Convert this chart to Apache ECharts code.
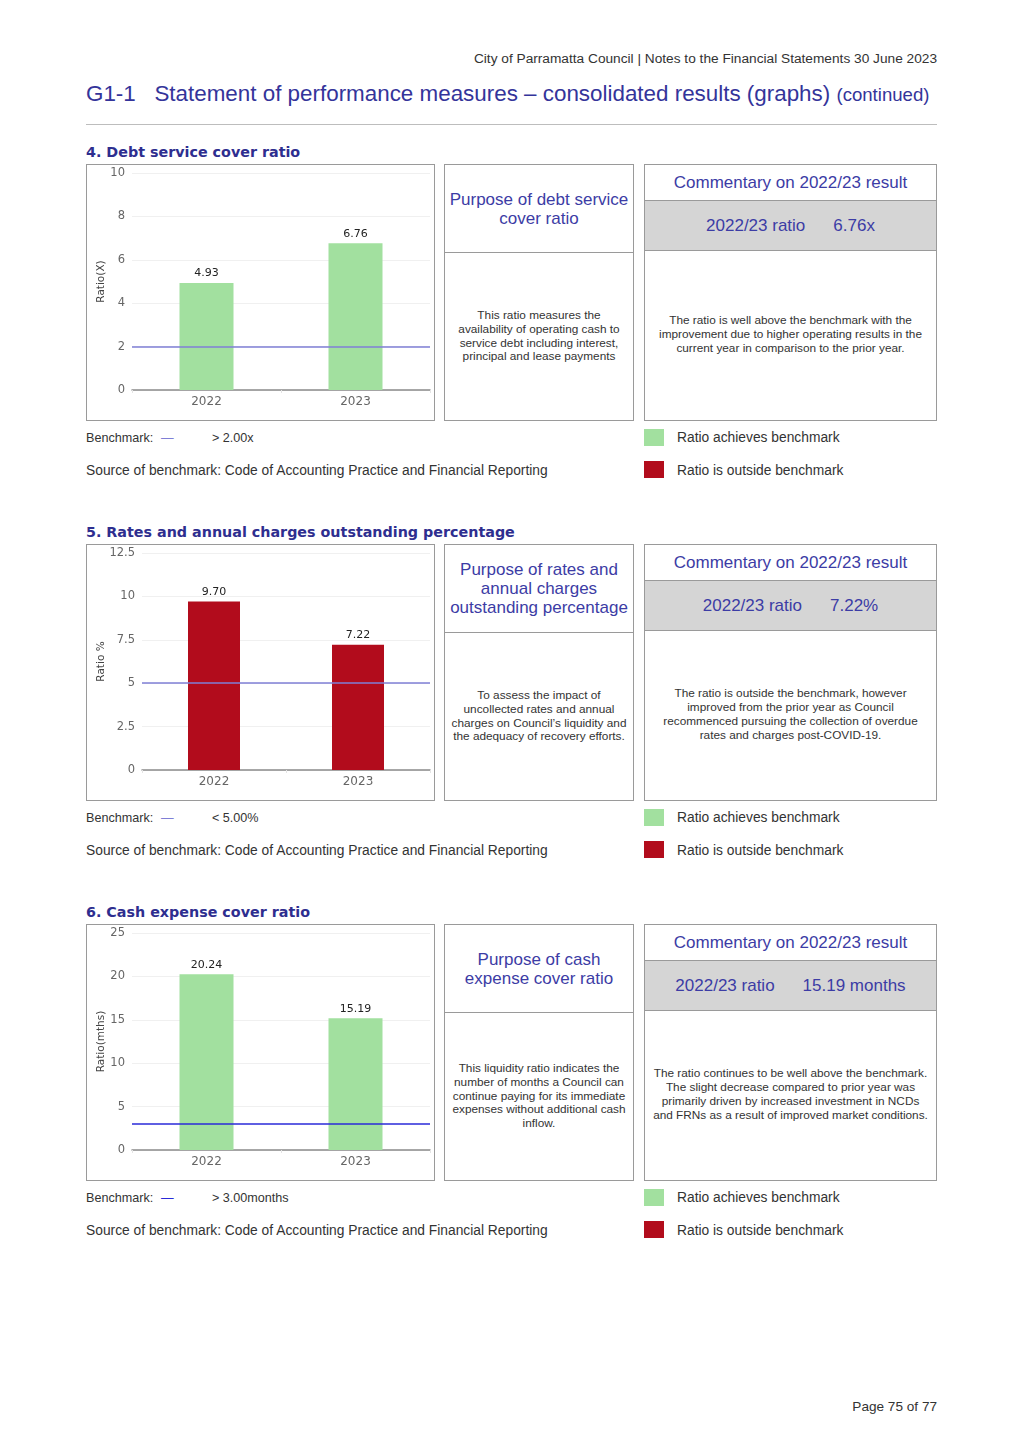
<!DOCTYPE html>
<html>
<head>
<meta charset="utf-8">
<script src="https://cdn.jsdelivr.net/npm/echarts@6/dist/echarts.min.js"></script>
<style>
  html, body { margin: 0; padding: 0; background: #fff; }
  body { width: 1024px; height: 1449px; position: relative; font-family: 'Liberation Sans', Arial, sans-serif; color: #333; }
  .abs { position: absolute; }
  .hdr { right: 87px; top: 51px; font-size: 13.7px; color: #333; white-space: nowrap; }
  .title { left: 86px; top: 81px; font-size: 22.4px; color: #34349a; white-space: nowrap; }
  .title small { font-size: 18.6px; }
  .rule { left: 86px; top: 124px; width: 851px; height: 1px; background: #bdbdbd; }
  .sect { left: 86px; font-family: 'DejaVu Sans', sans-serif; font-weight: bold; font-size: 14.3px; color: #2e2e8f; white-space: nowrap; }
  .chart { left: 86px; width: 349px; height: 257px; border: 1px solid #9a9a9a; box-sizing: border-box; }
  .purpose { left: 444px; width: 190px; height: 257px; border: 1px solid #9a9a9a; box-sizing: border-box; }
  .purpose .head { height: 87px; border-bottom: 1px solid #9a9a9a; display: flex; align-items: center; justify-content: center; text-align: center; font-size: 17px; line-height: 19px; color: #3c3ca5; white-space: nowrap; }
  .purpose .body, .comm .body { display: flex; align-items: center; justify-content: center; text-align: center; font-size: 11.8px; line-height: 13.8px; color: #333; white-space: nowrap; }
  .purpose .body { height: 167px; }
  .comm { left: 644px; width: 293px; height: 257px; border: 1px solid #9a9a9a; box-sizing: border-box; }
  .comm .head { height: 35px; display: flex; align-items: center; justify-content: center; font-size: 17px; color: #3c3ca5; }
  .comm .band { height: 51px; background: #d5d5d5; border-top: 1px solid #9a9a9a; border-bottom: 1px solid #9a9a9a; box-sizing: border-box; display: flex; align-items: center; justify-content: center; font-size: 17px; color: #3c3ca5; }
  .comm .band span + span { margin-left: 28px; }
  .comm .body { height: 168px; }
  .note { font-size: 13.8px; color: #333; white-space: nowrap; }
  .note.bm { font-size: 12.6px; }
  .sw { left: 644px; width: 20px; height: 17px; }
  .footer { right: 87px; top: 1399px; font-size: 13.6px; color: #333; }
</style>
</head>
<body>
<div class="abs hdr">City of Parramatta Council | Notes to the Financial Statements 30 June 2023</div>
<div class="abs title">G1-1&nbsp;&nbsp;&nbsp;Statement of performance measures – consolidated results (graphs) <small>(continued)</small></div>
<div class="abs rule"></div>
<div id="sections"></div>
<div class="abs footer">Page 75 of 77</div>

<script>
// ---- data ----
const categories = ['2022', '2023'];
const debtValues = [4.93, 6.76];
const ratesValues = [9.70, 7.22];
const cashValues = [20.24, 15.19];
const benchmarkValues = [2, 5, 3];
const debtTicks = { min: 0, max: 10, interval: 2 };
const ratesTicks = { min: 0, max: 12.5, interval: 2.5 };
const cashTicks = { min: 0, max: 25, interval: 5 };
const sectionTitles = ['4. Debt service cover ratio', '5. Rates and annual charges outstanding percentage', '6. Cash expense cover ratio'];
const axisNames = ['Ratio(X)', 'Ratio %', 'Ratio(mths)'];
const purposeHeads = [
  ['Purpose of debt service', 'cover ratio'],
  ['Purpose of rates and', 'annual charges', 'outstanding percentage'],
  ['Purpose of cash', 'expense cover ratio']
];
const purposeBodies = [
  ['This ratio measures the', 'availability of operating cash to', 'service debt including interest,', 'principal and lease payments'],
  ['To assess the impact of', 'uncollected rates and annual', 'charges on Council\u2019s liquidity and', 'the adequacy of recovery efforts.'],
  ['This liquidity ratio indicates the', 'number of months a Council can', 'continue paying for its immediate', 'expenses without additional cash', 'inflow.']
];
const resultTexts = ['6.76x', '7.22%', '15.19 months'];
const commentBodies = [
  ['The ratio is well above the benchmark with the', 'improvement due to higher operating results in the', 'current year in comparison to the prior year.'],
  ['The ratio is outside the benchmark, however', 'improved from the prior year as Council', 'recommenced pursuing the collection of overdue', 'rates and charges post-COVID-19.'],
  ['The ratio continues to be well above the benchmark.', 'The slight decrease compared to prior year was', 'primarily driven by increased investment in NCDs', 'and FRNs as a result of improved market conditions.']
];
const benchmarkTexts = ['> 2.00x', '< 5.00%', '> 3.00months'];
const achieves = [[true, true], [false, false], [true, true]];

// ---- layout ----
const GREEN = '#a2e09f', RED = '#b20c1c';
const lineColors = ['#7f7fd6', '#7f7fd6', '#2a2ad8'];
const sectionsEl = document.getElementById('sections');
const allValues = [debtValues, ratesValues, cashValues];
const allTicks = [debtTicks, ratesTicks, cashTicks];
const gridLeft = [45, 55, 45];
const nameGaps = [25, 35, 25];

for (let i = 0; i < 3; i++) {
  const off = i * 380;
  const html = `
  <div class="abs sect" style="top:${144 + off}px">${sectionTitles[i]}</div>
  <div class="abs chart" id="chart${i}" style="top:${164 + off}px"></div>
  <div class="abs purpose" style="top:${164 + off}px">
    <div class="head"><div>${purposeHeads[i].join('<br>')}</div></div>
    <div class="body"><div>${purposeBodies[i].join('<br>')}</div></div>
  </div>
  <div class="abs comm" style="top:${164 + off}px">
    <div class="head">Commentary on 2022/23 result</div>
    <div class="band"><span>2022/23 ratio</span><span>${resultTexts[i]}</span></div>
    <div class="body"><div>${commentBodies[i].join('<br>')}</div></div>
  </div>
  <div class="abs note bm" style="left:86px; top:${431 + off}px">Benchmark:</div>
  <div class="abs note bm" style="left:161px; top:${431 + off}px; color:${lineColors[i]}">\u2014</div>
  <div class="abs note bm" style="left:212px; top:${431 + off}px">${benchmarkTexts[i]}</div>
  <div class="abs note" style="left:86px; top:${463 + off}px">Source of benchmark: Code of Accounting Practice and Financial Reporting</div>
  <div class="abs sw" style="top:${429 + off}px; background:${GREEN}"></div>
  <div class="abs note" style="left:677px; top:${430 + off}px">Ratio achieves benchmark</div>
  <div class="abs sw" style="top:${461 + off}px; background:${RED}"></div>
  <div class="abs note" style="left:677px; top:${463 + off}px">Ratio is outside benchmark</div>`;
  sectionsEl.insertAdjacentHTML('beforeend', html);
}

for (let i = 0; i < 3; i++) {
  const chart = echarts.init(document.getElementById('chart' + i), null, { renderer: 'canvas' });
  const t = allTicks[i];
  chart.setOption({
    animation: false,
    textStyle: { fontFamily: 'DejaVu Sans' },
    grid: { left: gridLeft[i], right: 4, top: 8, bottom: 30, containLabel: false, outerBoundsMode: 'none' },
    xAxis: {
      type: 'category',
      data: categories,
      axisLine: { lineStyle: { color: '#8a8a8a', width: 1.5 } },
      axisTick: { show: true, length: 3, lineStyle: { color: '#e4e4e4' } },
      axisLabel: { color: '#666', fontSize: 12, margin: 6, fontFamily: 'DejaVu Sans' }
    },
    yAxis: {
      type: 'value',
      min: t.min, max: t.max, interval: t.interval,
      name: axisNames[i],
      nameLocation: 'middle',
      nameGap: nameGaps[i],
      nameMoveOverlap: false,
      nameTextStyle: { color: '#444', fontSize: 10.5, fontFamily: 'DejaVu Sans' },
      axisLine: { show: false },
      axisTick: { show: false },
      axisLabel: { color: '#666', fontSize: 11.5, margin: 7, fontFamily: 'DejaVu Sans' },
      splitLine: { lineStyle: { color: '#f0f0f0' } }
    },
    series: [
      {
        type: 'line',
        data: categories.map(() => null),
        z: 1,
        silent: true,
        markLine: {
          symbol: 'none',
          silent: true,
          label: { show: false },
          lineStyle: { color: lineColors[i], type: 'solid', width: 1.5 },
          data: [{ yAxis: benchmarkValues[i] }]
        }
      },
      {
        type: 'bar',
        z: 3,
        barWidth: i === 1 ? 52 : 54,
        data: allValues[i].map((v, k) => ({ value: v, itemStyle: { color: achieves[i][k] ? GREEN : RED } })),
        label: {
          show: true,
          position: 'top',
          distance: 4,
          color: '#222',
          fontSize: 11,
          fontFamily: 'DejaVu Sans',
          formatter: p => p.value.toFixed(2)
        }
      }
    ]
  });
}
</script>
</body>
</html>
